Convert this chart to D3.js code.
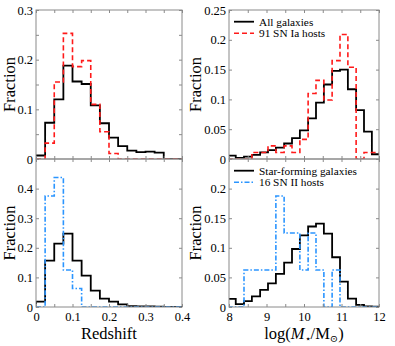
<!DOCTYPE html>
<html>
<head>
<meta charset="utf-8">
<script src="https://cdn.jsdelivr.net/npm/d3@7"></script>
<style>
  body { margin: 0; background: #fff; }
  text { font-family: 'Liberation Serif', 'DejaVu Serif', serif; fill: #000; }
</style>
</head>
<body>
<div class="chart"></div>
<script>
// bin edges
const zEdges = [0, 0.025, 0.05, 0.075, 0.1, 0.125, 0.15, 0.175, 0.2, 0.225, 0.25, 0.275, 0.3, 0.325, 0.35, 0.375, 0.4];
const massEdges = [7.97, 8.18, 8.40, 8.61, 8.83, 9.04, 9.25, 9.47, 9.68, 9.89, 10.11, 10.32, 10.53, 10.75, 10.96, 11.17, 11.39, 11.60, 11.81, 12.03];

// redshift histograms
const allGalZ = [0.007, 0.073, 0.120, 0.188, 0.156, 0.151, 0.108, 0.072, 0.043, 0.026, 0.017, 0.014, 0.015, 0.013, 0, 0];
const snIaZ   = [0, 0.032, 0.155, 0.253, 0.186, 0.198, 0.110, 0.055, 0.011, 0, 0, 0, 0, 0, 0, 0];
const sfGalZ  = [0.018, 0.157, 0.214, 0.248, 0.157, 0.106, 0.055, 0.028, 0.018, 0.009, 0.003, 0.002, 0.002, 0.001, 0, 0];
const snIIZ   = [0, 0.375, 0.4375, 0.125, 0.0625, 0, 0, 0, 0, 0, 0, 0, 0, 0, 0, 0];

// stellar mass histograms
const allGalM = [0.0056, 0.002, 0.004, 0.007, 0.011, 0.015, 0.019, 0.026, 0.035, 0.048, 0.068, 0.0945, 0.125, 0.148, 0.150, 0.117, 0.082, 0.046, 0.008];
const snIaM   = [0, 0, 0, 0.011, 0.011, 0.022, 0.011, 0.022, 0.011, 0.033, 0.110, 0.132, 0.099, 0.165, 0.209, 0.154, 0, 0.011, 0.011];
const sfGalM  = [0.0138, 0.005, 0.010, 0.018, 0.029, 0.040, 0.056, 0.075, 0.098, 0.121, 0.136, 0.141, 0.124, 0.084, 0.043, 0.014, 0.0035, 0.001, 0.0005];
const snIIM   = [0, 0, 0.0625, 0.0625, 0.0625, 0.0625, 0.1875, 0.125, 0.125, 0.0625, 0.125, 0.0625, 0, 0.0625, 0, 0, 0, 0, 0];

// tick labels
const zTickLabels = [0, 0.1, 0.2, 0.3, 0.4];
const massTickLabels = [8, 9, 10, 11, 12];
const yTopLeftLabels = [0, 0.1, 0.2, 0.3];
const yBotLeftLabels = [0, 0.1, 0.2, 0.3, 0.4];
const yTopRightLabels = [0, 0.05, 0.1, 0.15, 0.2, 0.25];
const yBotRightLabels = [0, 0.05, 0.1, 0.15, 0.2];

const legendTop = ['All galaxies', '91 SN Ia hosts'];
const legendBot = ['Star-forming galaxies', '16 SN II hosts'];

const width = 395, height = 346;
const frameColor = '#8a8a8a';
const red = '#ff1a1a', blue = '#2b95ff';

const svg = d3.select('.chart').append('svg')
    .attr('width', width)
    .attr('height', height);

const colL = [36, 182], colR = [229, 379];
const rowT = [10, 159], rowB = [159, 307];

let clipId = 0;

function panel(xr, yr, xDomain, yDomain, xTickStep, yTickStep, yLabels, xLabels, series) {
    const x = d3.scaleLinear().domain(xDomain).range(xr);
    const y = d3.scaleLinear().domain(yDomain).range([yr[1], yr[0]]);
    const g = svg.append('g');

    const id = 'clip' + (clipId++);
    g.append('clipPath').attr('id', id)
      .append('rect')
        .attr('x', xr[0]).attr('y', yr[0])
        .attr('width', xr[1] - xr[0]).attr('height', yr[1] - yr[0]);

    const line = d3.line().x(d => x(d[0])).y(d => y(d[1]));
    series.forEach(s => {
        const pts = [[s.edges[0], 0]];
        s.values.forEach((v, i) => {
            pts.push([s.edges[i], v]);
            pts.push([s.edges[i + 1], v]);
        });
        pts.push([s.edges[s.edges.length - 1], 0]);
        g.append('path')
            .attr('clip-path', `url(#${id})`)
            .attr('d', line(pts))
            .attr('fill', 'none')
            .attr('stroke', s.color)
            .attr('stroke-width', s.w || 1.6)
            .attr('stroke-dasharray', s.dash || null);
    });

    // inward tick marks on all sides
    const xt = d3.range(xDomain[0], xDomain[1] + 1e-9, xTickStep);
    const yt = d3.range(yDomain[0], yDomain[1] + 1e-9, yTickStep);
    const tickStyle = sel => {
        sel.select('.domain').remove();
        sel.selectAll('line').attr('stroke', frameColor);
    };
    g.append('g').attr('transform', `translate(0,${yr[1]})`)
        .call(d3.axisBottom(x).tickValues(xt).tickSize(-3).tickFormat('')).call(tickStyle);
    g.append('g').attr('transform', `translate(0,${yr[0]})`)
        .call(d3.axisTop(x).tickValues(xt).tickSize(-3).tickFormat('')).call(tickStyle);
    g.append('g').attr('transform', `translate(${xr[0]},0)`)
        .call(d3.axisLeft(y).tickValues(yt).tickSize(-3).tickFormat('')).call(tickStyle);
    g.append('g').attr('transform', `translate(${xr[1]},0)`)
        .call(d3.axisRight(y).tickValues(yt).tickSize(-3).tickFormat('')).call(tickStyle);

    g.append('rect')
        .attr('x', xr[0]).attr('y', yr[0])
        .attr('width', xr[1] - xr[0]).attr('height', yr[1] - yr[0])
        .attr('fill', 'none').attr('stroke', frameColor).attr('stroke-width', 1);

    // tick labels
    const yl = g.append('g').attr('transform', `translate(${xr[0]},0)`)
        .call(d3.axisLeft(y).tickValues(yLabels).tickSize(0).tickPadding(3).tickFormat(d => String(d)));
    yl.select('.domain').remove();
    yl.selectAll('text').attr('font-size', '12.5px').attr('font-family', null);

    if (xLabels) {
        const xl = g.append('g').attr('transform', `translate(0,${yr[1]})`)
            .call(d3.axisBottom(x).tickValues(xLabels).tickSize(0).tickPadding(5).tickFormat(d => String(d)));
        xl.select('.domain').remove();
        xl.selectAll('text').attr('font-size', '12.5px').attr('font-family', null);
    }
    return {x, y};
}

panel(colL, rowT, [0, 0.4], [0, 0.3], 0.05, 0.05, yTopLeftLabels, null, [
    {edges: zEdges, values: allGalZ, color: '#000', w: 1.8},
    {edges: zEdges, values: snIaZ, color: red, dash: '5,3'}
]);
panel(colL, rowB, [0, 0.4], [0, 0.5], 0.05, 0.1, yBotLeftLabels, zTickLabels, [
    {edges: zEdges, values: sfGalZ, color: '#000', w: 1.8},
    {edges: zEdges, values: snIIZ, color: blue, dash: '5,2,1.5,2'}
]);
panel(colR, rowT, [8, 12], [0, 0.25], 0.5, 0.05, yTopRightLabels, null, [
    {edges: massEdges, values: allGalM, color: '#000', w: 1.8},
    {edges: massEdges, values: snIaM, color: red, dash: '5,3'}
]);
panel(colR, rowB, [8, 12], [0, 0.25], 0.5, 0.05, yBotRightLabels, massTickLabels, [
    {edges: massEdges, values: sfGalM, color: '#000', w: 1.8},
    {edges: massEdges, values: snIIM, color: blue, dash: '5,2,1.5,2'}
]);

// axis titles
[[15, 84.5], [15, 233], [201, 84.5], [201, 233]].forEach(p => {
    svg.append('text')
        .attr('transform', `translate(${p[0]},${p[1]}) rotate(-90)`)
        .attr('text-anchor', 'middle')
        .attr('font-size', '16.5px')
        .text('Fraction');
});

svg.append('text')
    .attr('x', (colL[0] + colL[1]) / 2).attr('y', 339)
    .attr('text-anchor', 'middle')
    .attr('font-size', '16.5px')
    .text('Redshift');

const mt = svg.append('text')
    .attr('x', (colR[0] + colR[1]) / 2).attr('y', 339)
    .attr('text-anchor', 'middle')
    .attr('font-size', '16.5px');
mt.append('tspan').text('log(');
mt.append('tspan').attr('font-style', 'italic').text('M');
mt.append('tspan').attr('font-size', '10px').attr('dy', 3).text('⋆');
mt.append('tspan').attr('dy', -3).text('/M');
mt.append('tspan').attr('font-size', '10px').attr('dy', 3).text('⊙');
mt.append('tspan').attr('dy', -3).text(')');

// legends
function legend(y0, labels, color, dash) {
    const styles = [{c: '#000', d: null, w: 1.8}, {c: color, d: dash, w: 1.6}];
    labels.forEach((l, i) => {
        const yy = y0 + i * 11.6;
        svg.append('line')
            .attr('x1', 234).attr('x2', 254)
            .attr('y1', yy).attr('y2', yy)
            .attr('stroke', styles[i].c)
            .attr('stroke-width', styles[i].w)
            .attr('stroke-dasharray', styles[i].d);
        svg.append('text')
            .attr('x', 259).attr('y', yy + 3.8)
            .attr('font-size', '11.3px')
            .text(l);
    });
}
legend(21.7, legendTop, red, '5,3');
legend(170.7, legendBot, blue, '5,2,1.5,2');
</script>
</body>
</html>
